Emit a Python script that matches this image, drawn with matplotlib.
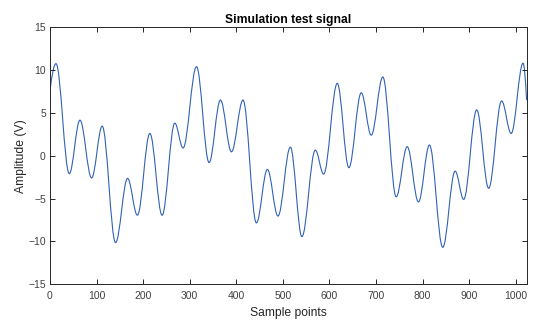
import matplotlib
matplotlib.use("Agg")
from matplotlib import pyplot as plt
from matplotlib.path import Path
from matplotlib.patches import PathPatch

# signal: start point, then every peak / trough, then end point
x_pts = [0, 12.9, 41.4, 64.3, 89.4, 112.1, 140.8, 166.6, 187.6, 214.4, 240.7,
         267.9, 285.7, 314.5, 341.5, 365.9, 389.5, 414.4, 443.1, 466.7, 489.4,
         516.0, 540.8, 569.6, 587.4, 616.7, 641.6, 668.2, 689.6, 714.5, 743.2,
         766.8, 791.0, 814.6, 843.1, 869.7, 888.1, 916.0, 941.7, 969.5, 990.0,
         1015.5, 1023]
y_pts = [7.6, 10.75, -2.1, 4.15, -2.6, 3.45, -10.15, -2.65, -6.95, 2.6, -6.95,
         3.8, 0.9, 10.4, -0.8, 6.5, 0.45, 6.5, -7.85, -1.6, -7.05,
         1.0, -9.45, 0.65, -2.15, 8.45, -1.4, 7.35, 2.4, 9.2, -4.8,
         1.05, -5.4, 1.25, -10.7, -1.8, -5.1, 5.35, -3.8, 6.4, 2.6,
         10.8, 6.5]

xticks = list(range(0, 1001, 100))
yticks = [-15, -10, -5, 0, 5, 10, 15]

plt.rcParams['font.family'] = ['Liberation Sans', 'DejaVu Sans']

fig = plt.figure(figsize=(5.5, 3.28), dpi=100)
ax = fig.add_axes([0.0909, 0.1338, 0.8673, 0.783])

# smooth curve: cubic bezier pieces with flat tangents at the extrema
verts = [(x_pts[0], y_pts[0])]
codes = [Path.MOVETO]
n = len(x_pts)
for i in range(n - 1):
    x0, y0 = x_pts[i], y_pts[i]
    x1, y1 = x_pts[i + 1], y_pts[i + 1]
    dx = x1 - x0
    k = 0.364
    if i == 0:
        c1 = (x0 + dx / 3, y0 + (y1 - y0) * 0.6)
    else:
        c1 = (x0 + k * dx, y0)
    if i == n - 2:
        c2 = (x1 - dx / 3, y1 + (y0 - y1) * 0.6)
    else:
        c2 = (x1 - k * dx, y1)
    verts += [c1, c2, (x1, y1)]
    codes += [Path.CURVE4, Path.CURVE4, Path.CURVE4]

ax.add_patch(PathPatch(Path(verts, codes), facecolor='none',
                       edgecolor='#3162b6', linewidth=0.8))

ax.set_xlim(0, 1024)
ax.set_ylim(-15, 15)
ax.set_xticks(xticks)
ax.set_yticks(yticks)

for s in ax.spines.values():
    s.set_color('#262626')
    s.set_linewidth(0.7)
ax.tick_params(direction='in', top=True, right=True, length=3.5, width=0.7,
               color='#262626', labelcolor='#404040', labelsize=7.5)
ax.tick_params(axis='x', pad=5)
ax.tick_params(axis='y', pad=3)

ax.set_title('Simulation test signal', fontsize=8.7, fontweight='bold',
             color='#000000', pad=3)
ax.set_xlabel('Sample points', fontsize=8.7, color='#262626', labelpad=4.5)
ax.set_ylabel('Amplitude (V)', fontsize=8.7, color='#262626', labelpad=1)

fig.savefig('out.png', dpi=100)
